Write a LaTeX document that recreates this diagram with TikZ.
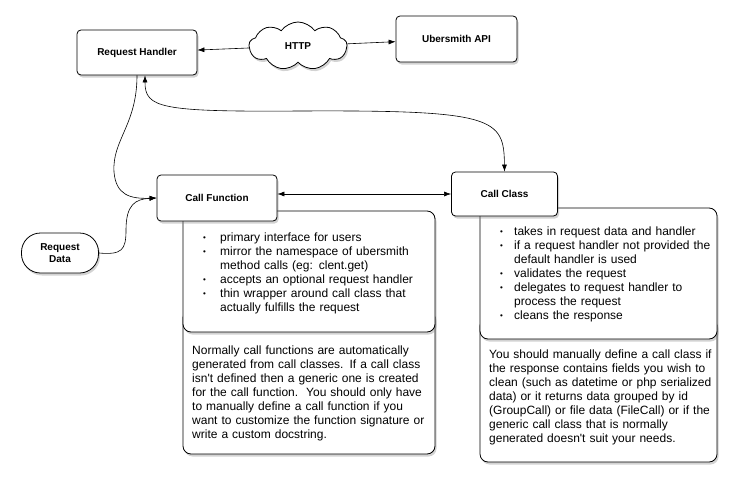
\documentclass[tikz,border=0pt]{standalone}
\usepackage{fontspec}
\setmainfont{Liberation Sans}
\usetikzlibrary{shapes.symbols,shadows,arrows.meta,positioning}
\tikzstyle{shade}=[drop shadow={shadow xshift=1.5pt, shadow yshift=-2.5pt, opacity=0.35}]
\tikzstyle{box}=[draw=black, fill=white, line width=0.8, rounded corners=4, inner sep=0, font=\bfseries, shade]
\tikzstyle{note}=[draw=black, fill=white, line width=0.8, rounded corners=8, inner sep=0, shade]
\tikzstyle{txt}=[inner sep=0, align=left, text width=240, anchor=north west]
\tikzstyle{l1}=[line width=0.6, -{Latex[length=7pt,width=5pt]}]
\tikzstyle{l2}=[line width=0.6, {Latex[length=7pt,width=5pt]}-{Latex[length=7pt,width=5pt]}]
\newcommand{\titem}[1][15pt]{\par\hangindent=#1\hangafter=1\noindent\makebox[#1][l]{\raisebox{1pt}{\fontsize{8}{8}\selectfont\textbullet}}\ignorespaces}

\begin{document}
\begin{tikzpicture}[x=1pt,y=-1pt,font=\fontsize{12}{14}\selectfont]
    \useasboundingbox (0,0) rectangle (738,487);

    % notes below the two call boxes
    \node[note, minimum width=252, minimum height=144] (fndoc) at (309,382) {};
    \node[note, minimum width=252, minimum height=121] (fnnotes) at (309,271.5) {};
    \node[note, minimum width=237, minimum height=144] (clsdoc) at (598.5,390) {};
    \node[note, minimum width=237, minimum height=131] (clsnotes) at (598.5,273.5) {};

    % main boxes
    \node[box, minimum width=120, minimum height=45] (handler) at (137,52.5) {Request Handler};
    \node[cloud, draw=black, fill=white, line width=0.8, cloud puffs=9, cloud puff arc=110, aspect=2,
          minimum width=98, minimum height=48, inner sep=0, font=\bfseries, shade] (http) at (298,46) {HTTP};
    \node[box, minimum width=121, minimum height=46] (api) at (456.5,39) {Ubersmith API};
    \node[box, minimum width=120, minimum height=46] (callfn) at (217,198) {Call Function};
    \node[box, minimum width=106, minimum height=44] (callcls) at (504.5,194) {Call Class};
    \node[box, rounded corners=19, minimum width=77, minimum height=40, align=center] (reqdata) at (60,253) {Request\\Data};

    % texts
    \node[txt] (fnlist) at (203,227) {%
        \titem[17pt] primary interface for users
        \titem[17pt] mirror the namespace of ubersmith\newline method calls (eg: clent.get)
        \titem[17pt] accepts an optional request handler
        \titem[17pt] thin wrapper around call class that\newline actually fulfills the request\par};
    \node[txt] (clslist) at (500,221) {%
        \titem[14pt] takes in request data and handler
        \titem[14pt] if a request handler not provided the\newline default handler is used
        \titem[14pt] validates the request
        \titem[14pt] delegates to request handler to\newline process the request
        \titem[14pt] cleans the response\par};
    \node[txt] (fntext) at (192,346) {Normally call functions are automatically\\
        generated from call classes. If a call class\\
        isn\textquotesingle t defined then a generic one is created\\
        for the call function.\ \ You should only have\\
        to manually define a call function if you\\
        want to customize the function signature or\\
        write a custom docstring.};
    \node[txt] (clstext) at (489,350) {You should manually define a call class if\\
        the response contains fields you wish to\\
        clean (such as datetime or php serialized\\
        data) or it returns data grouped by id\\
        (GroupCall) or file data (FileCall) or if the\\
        generic call class that is normally\\
        generated doesn\textquotesingle t suit your needs.};

    % connectors
    \draw[l1] (http) -- (handler);
    \draw[l1] (http) -- (api);
    \draw[l1] (handler.south) .. controls (137,125) and (112,140) .. (114,172)
        .. controls (116,195) and (130,199) .. (callfn.west);
    \draw[l1] (reqdata.east) .. controls (122,255) and (126,250) .. (126,230)
        .. controls (126,205) and (135,199) .. (callfn.west);
    \draw[l2] (callfn.east |- callcls.west) -- (callcls.west);
    \draw[l2] ([xshift=8pt]handler.south) .. controls (145,108) and (160,112) .. (300,111)
        .. controls (495,110) and (504,118) .. (callcls.north);
\end{tikzpicture}
\end{document}
